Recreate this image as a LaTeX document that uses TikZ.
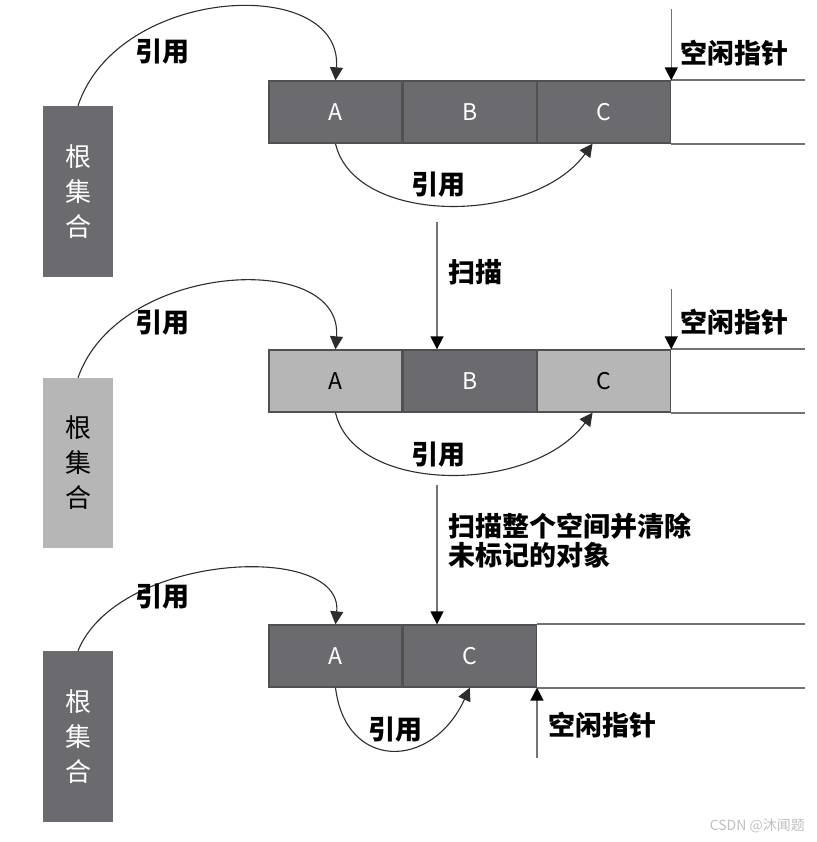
\documentclass[tikz,border=0pt]{standalone}
\usepackage{fontspec}
\setmainfont{Noto Sans CJK SC}
\usetikzlibrary{arrows.meta,positioning}

\definecolor{cellgray}{RGB}{107,107,111}
\definecolor{marklight}{RGB}{182,182,182}
\definecolor{edgegray}{RGB}{80,80,80}
\definecolor{wirecol}{RGB}{45,45,45}

\newcommand*{\barend}{805}
\newcommand*{\cellw}{133}
\newcommand*{\cellh}{62}

\begin{document}
\begin{tikzpicture}
[
	x=1pt,y=-1pt,
	cell/.style={rectangle,draw=edgegray,line width=1.3pt,inner sep=0pt,
		minimum width=\cellw pt,minimum height=\cellh pt,
		font=\fontsize{23}{23}\selectfont},
	darkcell/.style={cell,fill=cellgray,text=white},
	lightcell/.style={cell,fill=marklight,text=black},
	rootbox/.style={rectangle,inner sep=0pt,minimum width=70pt,align=center,
		font=\fontsize{26}{35}\selectfont},
	lbl/.style={inner sep=0pt,font=\bfseries\fontsize{27}{29}\selectfont},
	refline/.style={draw=wirecol,line width=1.1pt,
		-{Triangle[length=13pt,width=13pt]}},
	ptrline/.style={draw=black!55,line width=1.5pt,
		-{Triangle[length=13pt,width=13pt,fill=black,color=black]}},
	rimline/.style={draw=black!55,line width=1.8pt}
]

	\useasboundingbox (0,0) rectangle (816,842);
	\coordinate (rim) at (\barend,0);

	% panel one
	\node[rootbox,fill=cellgray,text=white,minimum height=171pt] at (78,191.5) (R1) {根\\集\\合};
	\node[darkcell] at (335.5,112) (A1) {A};
	\node[darkcell,right=0pt of A1] (B1) {B};
	\node[darkcell,right=0pt of B1] (C1) {C};
	\draw[rimline] (C1.north east) -- (C1.north east -| rim);
	\draw[rimline] (C1.south east) -- (C1.south east -| rim);

	\draw[refline] (R1.north) .. controls +(40,-121) and +(8,-106) .. (A1.north);
	\node[lbl] at (162,52) (ref1) {引用};
	\draw[refline] (A1.south) .. controls +(19,82) and +(-60,82) .. (C1.250);
	\node[lbl] at (438,185) (refac1) {引用};

	\coordinate[above=71pt of C1.north east] (fp1);
	\draw[ptrline] (fp1) -- (C1.north east);
	\node[lbl,anchor=west] at (680,53) (free1) {空闲指针};

	% scan
	\coordinate (scan) at (437,222);
	\node[lbl,anchor=west] at (448,272) (scanlbl) {扫描};

	% panel two
	\node[rootbox,fill=marklight,text=black,minimum height=170pt] at (78,463) (R2) {根\\集\\合};
	\node[lightcell] at (335.5,381) (A2) {A};
	\node[darkcell,right=0pt of A2] (B2) {B};
	\node[lightcell,right=0pt of B2] (C2) {C};
	\draw[rimline] (C2.north east) -- (C2.north east -| rim);
	\draw[rimline] (C2.south east) -- (C2.south east -| rim);
	\draw[ptrline] (scan) -- (scan |- B2.north);

	\draw[refline] (R2.north) .. controls +(40,-116) and +(8,-100) .. (A2.north);
	\node[lbl] at (162,323) (ref2) {引用};
	\draw[refline] (A2.south) .. controls +(19,82) and +(-60,82) .. (C2.250);
	\node[lbl] at (438,455) (refac2) {引用};

	\coordinate[above=60pt of C2.north east] (fp2);
	\draw[ptrline] (fp2) -- (C2.north east);
	\node[lbl,anchor=west] at (680,322) (free2) {空闲指针};

	% sweep
	\coordinate (sweep) at (437,485);
	\node[lbl,anchor=west,align=left] at (448,541) (sweeplbl) {扫描整个空间并清除\\未标记的对象};

	% panel three
	\node[rootbox,fill=cellgray,text=white,minimum height=171pt] at (78,736.5) (R3) {根\\集\\合};
	\node[darkcell] at (335.5,656) (A3) {A};
	\node[darkcell,right=0pt of A3] (C3) {C};
	\draw[rimline] (C3.north east) -- (C3.north east -| rim);
	\draw[rimline] (C3.south east) -- (C3.south east -| rim);
	\draw[ptrline] (sweep) -- (sweep |- C3.north);

	\draw[refline] (R3.north) .. controls +(40,-98) and +(8,-83) .. (A3.north);
	\node[lbl] at (162,597) (ref3) {引用};
	\draw[refline] (A3.south) .. controls +(10,83) and +(-38,83) .. (C3.south);
	\node[lbl] at (395,730) (refac3) {引用};

	\coordinate[below=70pt of C3.south east] (fp3);
	\draw[ptrline] (fp3) -- (C3.south east);
	\node[lbl,anchor=west] at (548,725) (free3) {空闲指针};

	% watermark
	\node[anchor=east,inner sep=0pt,text=black!25,font=\fontsize{14}{14}\selectfont] at (805,826) (mark) {CSDN @沐闻题};

\end{tikzpicture}
\end{document}
